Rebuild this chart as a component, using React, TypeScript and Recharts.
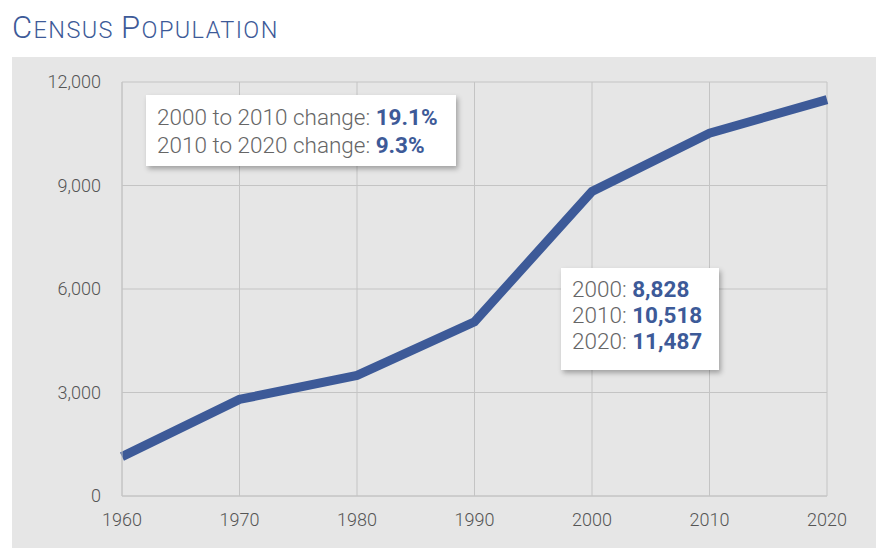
import React from "react";
import { LineChart, Line, XAxis, YAxis, CartesianGrid } from "recharts";

const years = [1960, 1970, 1980, 1990, 2000, 2010, 2020];
const population = [1140, 2800, 3495, 5050, 8828, 10518, 11487];
const yTicks = [0, 3000, 6000, 9000, 12000];
const changeNotes = [
  { label: "2000 to 2010 change: ", value: "19.1%" },
  { label: "2010 to 2020 change: ", value: "9.3%" },
];
const valueNotes = [
  { label: "2000: ", value: "8,828" },
  { label: "2010: ", value: "10,518" },
  { label: "2020: ", value: "11,487" },
];

const data = years.map((y, i) => ({ year: y, value: population[i] }));

const BLUE = "#3d5a98";
const GRAY_TEXT = "#666666";
const FONT = "Roboto, 'Noto Sans', sans-serif";

const fmt = (v: number) => v.toLocaleString("en-US");

function Title() {
  const words = ["Census", "Population"];
  return (
    <div
      style={{
        position: "absolute",
        left: 12,
        top: 8,
        color: BLUE,
        fontFamily: FONT,
        fontWeight: 300,
        whiteSpace: "nowrap",
        lineHeight: "40px",
        letterSpacing: "1.4px",
      }}
    >
      {words.map((w, i) => (
        <span key={i}>
          <span style={{ fontSize: 31 }}>{w[0].toUpperCase()}</span>
          <span style={{ fontSize: 23.5 }}>{w.slice(1).toUpperCase()}</span>
          {i < words.length - 1 ? <span style={{ fontSize: 23.5 }}> </span> : null}
        </span>
      ))}
    </div>
  );
}

function NoteBox({
  left,
  top,
  width,
  height,
  lineHeight,
  items,
}: {
  left: number;
  top: number;
  width: number;
  height: number;
  lineHeight: number;
  items: { label: string; value: string }[];
}) {
  return (
    <div
      style={{
        position: "absolute",
        left,
        top,
        width,
        height,
        boxSizing: "border-box",
        background: "#ffffff",
        boxShadow: "2px 3px 5px rgba(0,0,0,0.3)",
        padding: "8px 0 0 11px",
        fontFamily: FONT,
        fontSize: 22.5,
        lineHeight: `${lineHeight}px`,
        whiteSpace: "nowrap",
      }}
    >
      {items.map((it, i) => (
        <div key={i}>
          <span style={{ color: GRAY_TEXT, fontWeight: 300 }}>{it.label}</span>
          <span style={{ color: BLUE, fontWeight: 700 }}>{it.value}</span>
        </div>
      ))}
    </div>
  );
}

export default function App() {
  return (
    <div
      style={{
        position: "absolute",
        left: 0,
        top: 0,
        width: 876,
        height: 548,
        background: "#ffffff",
        overflow: "hidden",
      }}
    >
      <Title />
      <div
        style={{
          position: "absolute",
          left: 12,
          top: 57,
          width: 864,
          height: 491,
          background: "#e6e6e6",
        }}
      >
        <LineChart
          width={864}
          height={491}
          data={data}
          margin={{ top: 25, right: 49, bottom: 22, left: 0 }}
        >
          <CartesianGrid stroke="#c4c4c4" strokeWidth={1} />
          <XAxis
            dataKey="year"
            type="number"
            domain={[1960, 2020]}
            ticks={years}
            height={30}
            tickLine={false}
            axisLine={{ stroke: "#c4c4c4" }}
            tickMargin={11}
            tick={{ fill: "#555555", fontSize: 18, fontFamily: FONT, fontWeight: 300 }}
          />
          <YAxis
            type="number"
            domain={[0, 12000]}
            ticks={yTicks}
            width={110}
            tickLine={false}
            axisLine={{ stroke: "#c4c4c4" }}
            tickMargin={15}
            tickFormatter={fmt}
            tick={{ fill: "#555555", fontSize: 18, fontFamily: FONT, fontWeight: 300 }}
          />
          <Line
            type="linear"
            dataKey="value"
            stroke={BLUE}
            strokeWidth={9}
            dot={false}
            activeDot={false}
            isAnimationActive={false}
          />
        </LineChart>
      </div>
      <NoteBox left={146} top={95} width={310} height={71} lineHeight={28} items={changeNotes} />
      <NoteBox left={561} top={268} width={158} height={102} lineHeight={26} items={valueNotes} />
    </div>
  );
}
